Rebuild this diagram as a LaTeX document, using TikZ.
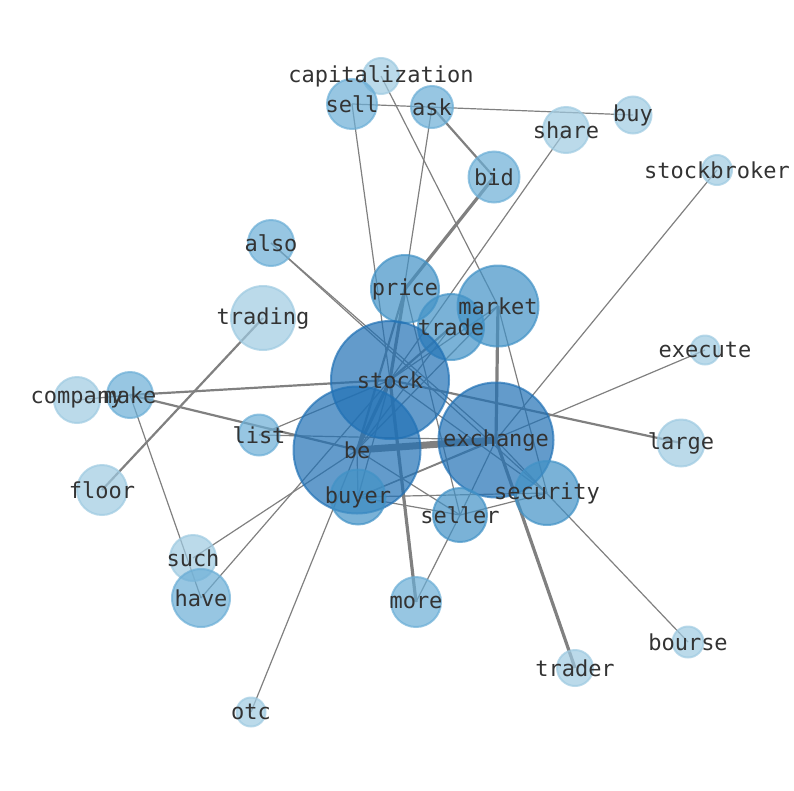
\documentclass[tikz,border=0pt]{standalone}
\usepackage{fontspec}
\newfontfamily\monofont{DejaVu Sans Mono}
\pgfdeclarelayer{bg}
\pgfdeclarelayer{fg}
\pgfsetlayers{bg,main,fg}
\definecolor{cA}{HTML}{9ECAE1}
\definecolor{cB}{HTML}{6BAED6}
\definecolor{cC}{HTML}{4292C6}
\definecolor{cD}{HTML}{2171B5}
\definecolor{edgegray}{HTML}{808080}
\definecolor{labelgray}{HTML}{333333}
\tikzset{
  nd/.style={circle, inner sep=0pt, fill opacity=0.7, draw opacity=0.7, line width=2pt},
  lvA/.style={nd, fill=cA, draw=cA},
  lvB/.style={nd, fill=cB, draw=cB},
  lvC/.style={nd, fill=cC, draw=cC},
  lvD/.style={nd, fill=cD, draw=cD},
  lbl/.style={font=\monofont\fontsize{22}{22}\selectfont, text=labelgray, inner sep=0pt},
  ed/.style={draw=edgegray, line width=1.2pt},
  edm/.style={draw=edgegray, line width=2.2pt},
  edt/.style={draw=edgegray, line width=3.2pt},
  edx/.style={draw=edgegray, line width=7pt}
}
\begin{document}
\begin{tikzpicture}[x=1pt,y=-1pt]
\useasboundingbox (0,0) rectangle (794,790);
% nodes (circles)
\node[lvA, minimum size=36] (capitalization) at (381,76) {};
\node[lvB, minimum size=50] (sell) at (352,104) {};
\node[lvB, minimum size=42] (ask) at (432,107) {};
\node[lvA, minimum size=37] (buy) at (633,115) {};
\node[lvA, minimum size=46] (share) at (566,130) {};
\node[lvB, minimum size=51] (bid) at (494,177) {};
\node[lvA, minimum size=30] (stockbroker) at (717,170) {};
\node[lvB, minimum size=46] (also) at (271,243) {};
\node[lvA, minimum size=64] (trading) at (263,318) {};
\node[lvC, minimum size=68] (price) at (405,289) {};
\node[lvC, minimum size=66] (trade) at (451,327) {};
\node[lvC, minimum size=81] (market) at (498,306) {};
\node[lvA, minimum size=29] (execute) at (705,350) {};
\node[lvA, minimum size=46] (company) at (77,400) {};
\node[lvB, minimum size=46] (make) at (130,395) {};
\node[lvB, minimum size=41] (list) at (259,435) {};
\node[lvA, minimum size=47] (large) at (681,443) {};
\node[lvA, minimum size=50] (floor) at (102,490) {};
\node[lvD, minimum size=127] (be) at (357,450) {};
\node[lvD, minimum size=118] (stock) at (390,380) {};
\node[lvD, minimum size=115] (exchange) at (496,440) {};
\node[lvC, minimum size=55] (buyer) at (358,497) {};
\node[lvC, minimum size=64] (security) at (547,493) {};
\node[lvC, minimum size=54] (seller) at (460,515) {};
\node[lvA, minimum size=46] (such) at (193,558) {};
\node[lvB, minimum size=58] (have) at (201,598) {};
\node[lvB, minimum size=50] (more) at (416,602) {};
\node[lvA, minimum size=31] (bourse) at (688,642) {};
\node[lvA, minimum size=36] (trader) at (575,668) {};
\node[lvA, minimum size=29] (otc) at (251,712) {};
% edges
\begin{pgfonlayer}{bg}
\draw[ed] (sell.center) -- (buy.center);
\draw[ed] (sell.center) -- (stock.center);
\draw[ed] (ask.center) -- (stock.center);
\draw[edm] (ask.center) -- (bid.center);
\draw[ed] (capitalization.center) -- (market.center);
\draw[ed] (share.center) -- (stock.center);
\draw[edt] (bid.center) -- (price.center);
\draw[edt] (price.center) -- (stock.center);
\draw[edm] (price.center) -- (be.center);
\draw[ed] (price.center) -- (seller.center);
\draw[edt] (more.center) -- (stock.center);
\draw[ed] (also.center) -- (exchange.center);
\draw[ed] (also.center) -- (security.center);
\draw[ed] (stockbroker.center) -- (exchange.center);
\draw[ed] (execute.center) -- (buyer.center);
\draw[edm] (stock.center) -- (large.center);
\draw[ed] (bourse.center) -- (exchange.center);
\draw[edt] (exchange.center) -- (trader.center);
\draw[edt] (market.center) -- (exchange.center);
\draw[ed] (market.center) -- (security.center);
\draw[ed] (market.center) -- (stock.center);
\draw[ed] (market.center) -- (be.center);
\draw[edm] (trade.center) -- (stock.center);
\draw[ed] (trade.center) -- (be.center);
\draw[edx] (be.center) -- (exchange.center);
\draw[edt] (be.center) -- (stock.center);
\draw[ed] (exchange.center) -- (seller.center);
\draw[ed] (seller.center) -- (more.center);
\draw[ed] (seller.center) -- (security.center);
\draw[ed] (buyer.center) -- (seller.center);
\draw[ed] (buyer.center) -- (security.center);
\draw[ed] (buyer.center) -- (exchange.center);
\draw[ed] (buyer.center) -- (stock.center);
\draw[ed] (be.center) -- (buyer.center);
\draw[ed] (be.center) -- (seller.center);
\draw[ed] (stock.center) -- (security.center);
\draw[edm] (make.center) -- (be.center);
\draw[edm] (make.center) -- (stock.center);
\draw[ed] (make.center) -- (have.center);
\draw[ed] (company.center) -- (make.center);
\draw[ed] (list.center) -- (exchange.center);
\draw[ed] (list.center) -- (stock.center);
\draw[ed] (such.center) -- (be.center);
\draw[ed] (have.center) -- (stock.center);
\draw[ed] (otc.center) -- (be.center);
\draw[edm] (floor.center) -- (trading.center);
\end{pgfonlayer}
% labels
\begin{pgfonlayer}{fg}
\foreach \n in {capitalization,sell,ask,buy,share,bid,stockbroker,also,trading,price,trade,market,execute,company,make,list,large,floor,be,stock,exchange,buyer,security,seller,such,have,more,bourse,trader,otc}
  \node[lbl] at (\n) {\n};
\end{pgfonlayer}
\end{tikzpicture}
\end{document}
